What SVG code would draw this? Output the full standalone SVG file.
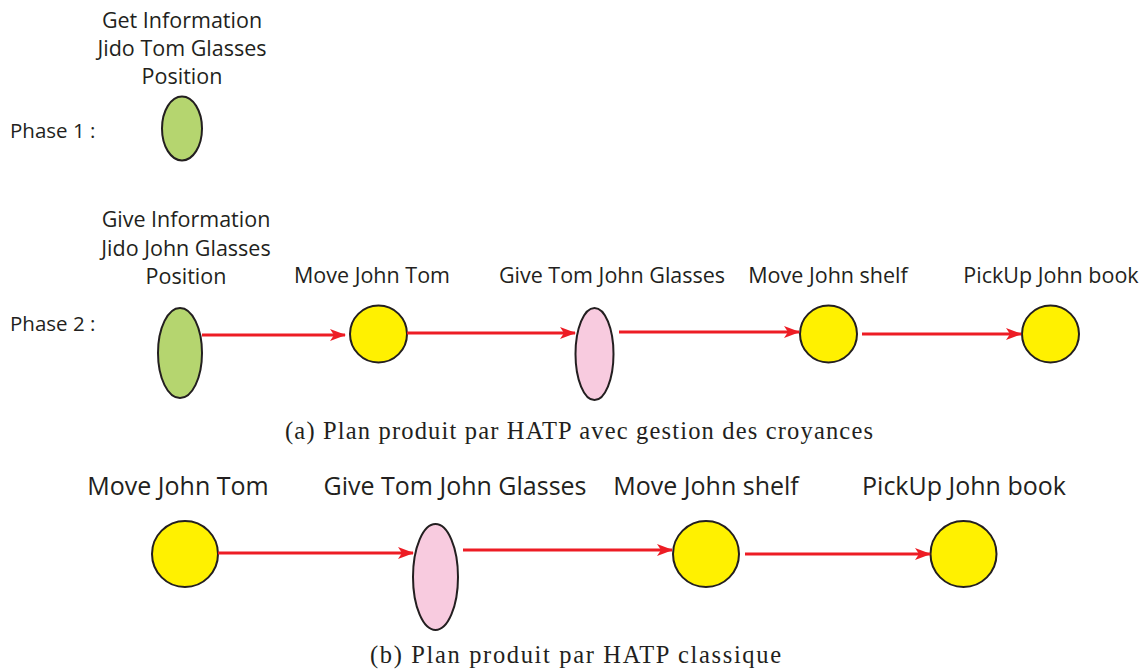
<svg xmlns="http://www.w3.org/2000/svg" width="1148" height="672" viewBox="0 0 1148 672">
<style>
.lbl{font-family:"Open Sans","Liberation Sans",sans-serif;font-size:21.5px;fill:#231F20;text-anchor:middle}
.lblb{font-family:"Open Sans","Liberation Sans",sans-serif;font-size:25px;fill:#231F20;text-anchor:middle}
.ph{font-family:"Open Sans","Liberation Sans",sans-serif;font-size:20.5px;fill:#231F20}
.cap{font-family:"Liberation Serif","DejaVu Serif",serif;font-size:24.5px;fill:#231F20}
.green{fill:#B5D56F;stroke:#231F20;stroke-width:2}
.yellow{fill:#FFF100;stroke:#231F20;stroke-width:2}
.pink{fill:#F8CBDF;stroke:#231F20;stroke-width:2}
.edge{stroke:#ED1C24;stroke-width:3;fill:none}
</style>
<defs>
<marker id="ah" viewBox="0 0 16 12" refX="15" refY="6" markerWidth="16" markerHeight="12" markerUnits="userSpaceOnUse" orient="auto">
<path d="M0,0 L16,6 L0,12 L4,6 Z" fill="#ED1C24"/>
</marker>
</defs>
<rect width="1148" height="672" fill="#fff"/>

<text class="ph" x="10" y="138">Phase 1 :</text>
<text class="ph" x="10" y="331">Phase 2 :</text>

<g id="p1-get">
<text class="lbl" x="182" y="28">Get Information</text>
<text class="lbl" x="182" y="56">Jido Tom Glasses</text>
<text class="lbl" x="182" y="84">Position</text>
<ellipse class="green" cx="182" cy="128.5" rx="20" ry="32"/>
</g>

<g id="a-give">
<text class="lbl" x="186" y="227">Give Information</text>
<text class="lbl" x="186" y="256">Jido John Glasses</text>
<text class="lbl" x="186" y="284">Position</text>
<ellipse class="green" cx="180" cy="353" rx="22" ry="45"/>
</g>
<g id="a-move-tom">
<text class="lbl" x="372" y="283">Move John Tom</text>
<circle class="yellow" cx="378.5" cy="334" r="28.5"/>
</g>
<g id="a-give-glasses">
<text class="lbl" x="612" y="283">Give Tom John Glasses</text>
<ellipse class="pink" cx="594.5" cy="354" rx="19" ry="46"/>
</g>
<g id="a-move-shelf">
<text class="lbl" x="828" y="283">Move John shelf</text>
<circle class="yellow" cx="828.5" cy="334" r="28.5"/>
</g>
<g id="a-pickup">
<text class="lbl" x="1051" y="283">PickUp John book</text>
<circle class="yellow" cx="1050.5" cy="334" r="28.5"/>
</g>

<g id="b-move-tom">
<text class="lblb" x="178" y="495">Move John Tom</text>
<circle class="yellow" cx="185" cy="554" r="33"/>
</g>
<g id="b-give-glasses">
<text class="lblb" x="455" y="495">Give Tom John Glasses</text>
<ellipse class="pink" cx="435.5" cy="577" rx="22.5" ry="53"/>
</g>
<g id="b-move-shelf">
<text class="lblb" x="706" y="495">Move John shelf</text>
<circle class="yellow" cx="706" cy="554" r="33"/>
</g>
<g id="b-pickup">
<text class="lblb" x="964" y="495">PickUp John book</text>
<circle class="yellow" cx="963.5" cy="554" r="33"/>
</g>

<g id="connectors">
<line class="edge" x1="202" y1="335" x2="345" y2="335" marker-end="url(#ah)"/>
<line class="edge" x1="407" y1="333" x2="575" y2="333" marker-end="url(#ah)"/>
<line class="edge" x1="619" y1="332" x2="799" y2="332" marker-end="url(#ah)"/>
<line class="edge" x1="862" y1="334" x2="1021" y2="334" marker-end="url(#ah)"/>
<line class="edge" x1="218" y1="553" x2="413" y2="553" marker-end="url(#ah)"/>
<line class="edge" x1="463" y1="550" x2="672" y2="550" marker-end="url(#ah)"/>
<line class="edge" x1="745" y1="554" x2="930" y2="554" marker-end="url(#ah)"/>
</g>

<text class="cap" x="285" y="439" textLength="588" lengthAdjust="spacing">(a) Plan produit par HATP avec gestion des croyances</text>
<text class="cap" x="370" y="663" textLength="411" lengthAdjust="spacing">(b) Plan produit par HATP classique</text>
</svg>
